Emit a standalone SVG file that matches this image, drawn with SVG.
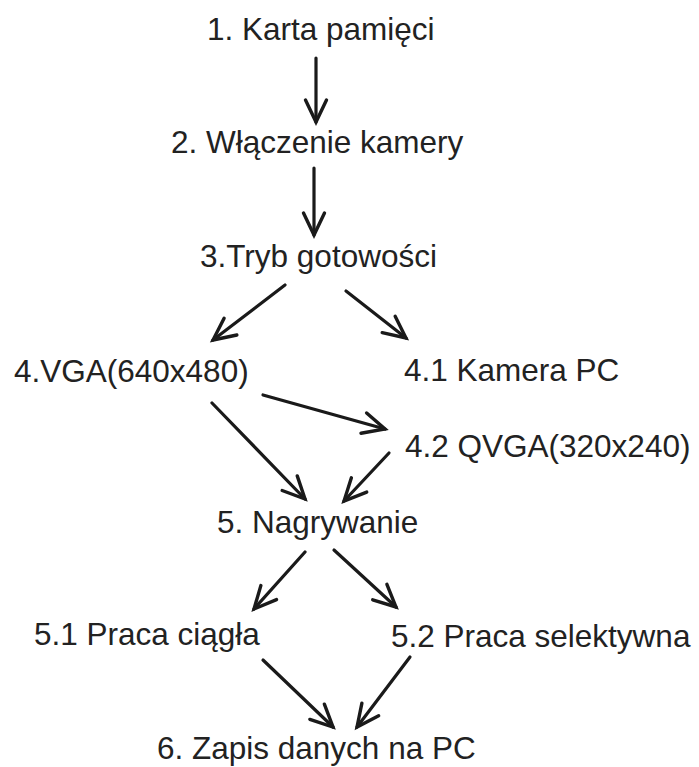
<svg xmlns="http://www.w3.org/2000/svg" width="699" height="767" viewBox="0 0 699 767">
<style>
text{font-family:"Liberation Sans",Arial,sans-serif;font-size:31.5px;fill:#222}
.c line{stroke:#1a1a1a;stroke-width:3.2;stroke-linecap:round;marker-end:url(#a)}
</style>
<defs>
<marker id="a" markerUnits="userSpaceOnUse" markerWidth="30" markerHeight="30" viewBox="-26 -15 30 30" refX="0" refY="0" orient="auto" overflow="visible">
<path d="M-22,-10.5 L0,0 L-22,10.5" fill="none" stroke="#1a1a1a" stroke-width="3.4" stroke-linecap="round" stroke-linejoin="miter"/>
</marker>
</defs>
<rect width="699" height="767" fill="#fff"/>
<g id="n1"><text x="207" y="40">1. Karta pamięci</text></g>
<g id="n2"><text x="171" y="153">2. Włączenie kamery</text></g>
<g id="n3"><text x="200" y="267">3.Tryb gotowości</text></g>
<g id="n4"><text x="14" y="382">4.VGA(640x480)</text></g>
<g id="n41"><text x="404" y="381">4.1 Kamera PC</text></g>
<g id="n42"><text x="405" y="457">4.2 QVGA(320x240)</text></g>
<g id="n5"><text x="217" y="533">5. Nagrywanie</text></g>
<g id="n51"><text x="34" y="645">5.1 Praca ciągła</text></g>
<g id="n52"><text x="391" y="647">5.2 Praca selektywna</text></g>
<g id="n6"><text x="157" y="759">6. Zapis danych na PC</text></g>
<g id="connectors" class="c">
<line x1="316" y1="58" x2="316" y2="122"/>
<line x1="314" y1="168" x2="314" y2="235"/>
<line x1="285" y1="285" x2="213" y2="340"/>
<line x1="346" y1="291" x2="406" y2="338"/>
<line x1="263" y1="395" x2="385" y2="429"/>
<line x1="212" y1="403" x2="305" y2="499"/>
<line x1="389" y1="453" x2="344" y2="501"/>
<line x1="305" y1="552" x2="254" y2="609"/>
<line x1="334" y1="550" x2="396" y2="607"/>
<line x1="263" y1="660" x2="333" y2="727"/>
<line x1="410" y1="657" x2="357" y2="727"/>
</g>
</svg>
